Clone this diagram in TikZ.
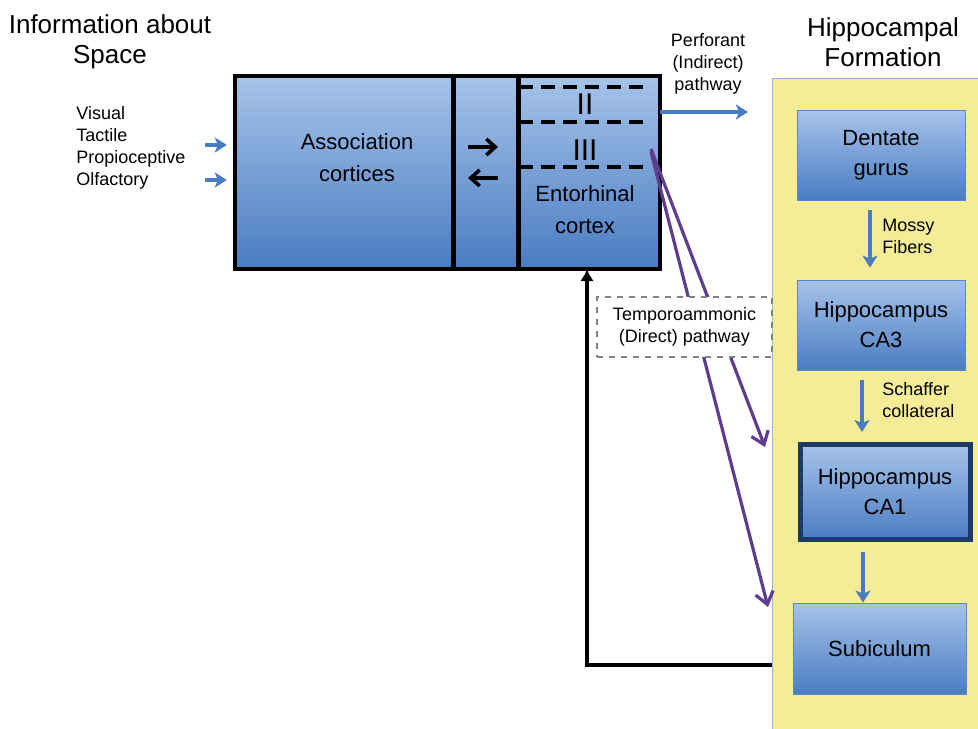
\documentclass[tikz,border=0pt]{standalone}
\usepackage{fontspec}
\setmainfont{Liberation Sans}
\usetikzlibrary{positioning, calc, arrows.meta}

\definecolor{boxtop}{HTML}{A6C3E9}
\definecolor{boxbot}{HTML}{4A7CC3}
\definecolor{boxline}{HTML}{5B87C2}
\definecolor{arrowblue}{HTML}{4A7DC0}
\definecolor{tapurple}{HTML}{5E3D8E}
\definecolor{hfyellow}{HTML}{F5EC98}
\definecolor{hfline}{HTML}{9CB4D2}
\definecolor{caborder}{HTML}{1D3965}

\begin{document}
\begin{tikzpicture}[x=0.5pt, y=-0.5pt,
    bluebox/.style={draw=boxline, top color=boxtop, bottom color=boxbot, align=center,
        font=\fontsize{11}{15}\selectfont, minimum width=84pt, minimum height=45pt, inner sep=0pt},
    ecpart/.style={draw, line width=1.2pt, top color=boxtop, bottom color=boxbot,
        minimum height=95.5pt, inner sep=0pt},
    bigtxt/.style={font=\fontsize{11}{16}\selectfont, align=center, inner sep=0pt},
    smalltxt/.style={font=\fontsize{9}{11}\selectfont, align=left, inner sep=0pt},
    headtxt/.style={font=\fontsize{13}{15}\selectfont, align=center, inner sep=0pt},
    bluearrow/.style={-{Stealth[length=6pt,width=7.5pt,inset=1.5pt]}, line width=2pt, draw=arrowblue},
    blackarrow/.style={-{Straight Barb[length=4.5pt,width=8pt]}, line width=1.8pt},
    tapath/.style={-{Straight Barb[length=6pt,width=9pt]}, line width=1.6pt, draw=tapurple},
    ecdash/.style={line width=2pt, dash pattern=on 7pt off 4pt}]

    \useasboundingbox (0,0) rectangle (978,728);

    \node[headtxt] (info) at (110,42) {Information about\\Space};
    \node[headtxt] (hftitle) at (883,42) {Hippocampal\\Formation};

    \node[smalltxt, anchor=west] (senses) at (76,148) {Visual\\Tactile\\Propioceptive\\Olfactory};

    \node[ecpart, minimum width=108pt] (ac) at (344,172.5) {};
    \node[ecpart, minimum width=31.5pt, right=0pt of ac] (mid) {};
    \node[ecpart, minimum width=69.5pt, right=0pt of mid] (ec) {};
    \draw[line width=1.8pt] (ac.north west) rectangle (ec.south east);

    \node[bigtxt] (actxt) at (357,158) {Association\\cortices};
    \node[bigtxt] (ectxt) at (585,210) {Entorhinal\\cortex};
    \node[font=\fontsize{15}{15}\selectfont, inner sep=0pt] (layer2) at (585,104) {II};
    \node[font=\fontsize{15}{15}\selectfont, inner sep=0pt] (layer3) at (585,150) {III};
    \draw[ecdash] (519,87) -- (650,87);
    \draw[ecdash] (519,122) -- (650,122);
    \draw[ecdash] (519,167) -- (650,167);

    \coordinate (m1) at (468,147);
    \coordinate (m2) at (498,147);
    \coordinate (m3) at (498,178);
    \coordinate (m4) at (468,178);
    \draw[blackarrow] (m1) -- (m2);
    \draw[blackarrow] (m3) -- (m4);

    \coordinate (in1) at (205,145);
    \coordinate (in2) at (205,180);
    \draw[bluearrow, shorten >=4pt] (in1) -- (in1 -| ac.west);
    \draw[bluearrow, shorten >=4pt] (in2) -- (in2 -| ac.west);

    \node[draw=hfline, fill=hfyellow, minimum width=105pt, minimum height=326pt, inner sep=0pt] (hf) at (877.5,404) {};

    \coordinate (perf) at (748,112);
    \draw[bluearrow] (perf -| ec.east) -- (perf);
    \node[smalltxt, align=center] (perftxt) at (708,64) {Perforant\\(Indirect)\\pathway};

    \node[bluebox] (dg) at (881,155) {Dentate\\gurus};
    \node[bluebox] (ca3) at (881,325) {Hippocampus\\CA3};
    \node[bluebox, draw=caborder, line width=2.5pt, minimum width=85pt, minimum height=47.5pt] (ca1) at (885,492) {Hippocampus\\CA1};
    \node[bluebox, minimum width=86.5pt, minimum height=45.5pt] (sub) at (879.5,648.5) {Subiculum};

    \draw[bluearrow, shorten <=5pt, shorten >=6pt] ([xshift=-5.5pt]dg.south) -- ([xshift=-5.5pt]dg.south |- ca3.north);
    \node[smalltxt, anchor=west] (mossy) at (882,236) {Mossy\\Fibers};
    \draw[bluearrow, shorten <=5pt, shorten >=5pt] ([xshift=-9.5pt]ca3.south) -- ([xshift=-9.5pt]ca3.south |- ca1.north);
    \node[smalltxt, anchor=west] (schaffer) at (882,400) {Schaffer\\collateral};
    \draw[bluearrow, shorten <=5pt] ([xshift=-11pt]ca1.south) -- ([xshift=-11pt]ca1.south |- sub.north);

    \coordinate (ta0) at (651,149);
    \coordinate (ta1) at (765,447);
    \coordinate (ta2) at (768,607);
    \draw[tapath] (ta0) -- (ta1);
    \draw[tapath] ([yshift=-1.5pt]ta0) -- (ta2);

    \node[draw=gray, dashed, line width=1.2pt, fill=white, smalltxt, align=center,
        minimum width=87.5pt, minimum height=30pt] (tabox) at (684.5,327) {Temporoammonic\\(Direct) pathway};

    \coordinate (fb) at (587,665);
    \draw[line width=1.8pt, -{Latex[length=6pt,width=7pt]}] (fb -| hf.west) -- (fb) -- (fb |- ec.south);
\end{tikzpicture}
\end{document}
